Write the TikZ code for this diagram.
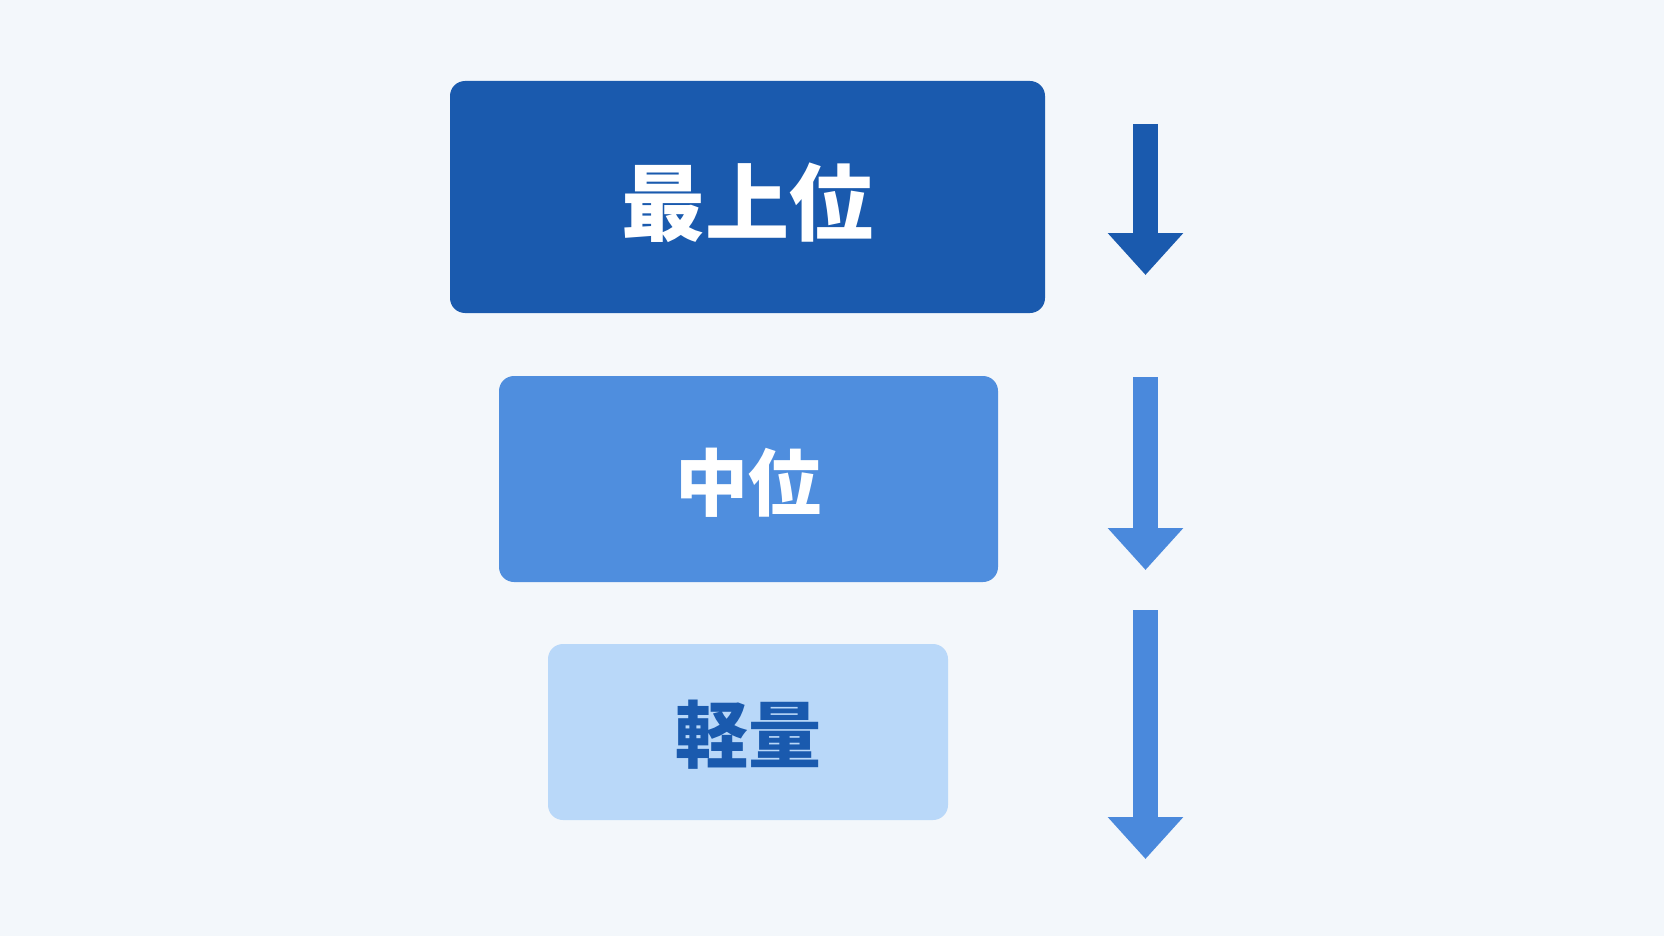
\documentclass[tikz,border=0pt]{standalone}
\usepackage{fontspec}
\usepackage{tikz}
\usetikzlibrary{arrows.meta}
\newfontfamily\cjk{Noto Sans CJK JP}
\definecolor{bgcol}{HTML}{F3F7FB}
\definecolor{topcol}{HTML}{1A5AAE}
\definecolor{midcol}{HTML}{4F8EDE}
\definecolor{lowcol}{HTML}{B9D8F9}
\definecolor{arrcol}{HTML}{4A89DC}
\newcommand{\lowered}[2]{\raisebox{-#1}[\height][\depth]{#2}}
\tikzset{
  tier/.style={rounded corners=15pt, inner sep=0pt, font=\cjk\bfseries},
  downarrow/.style={line width=25pt, -{Triangle[length=42pt, width=73pt]}}
}

\begin{document}
\begin{tikzpicture}[x=1pt, y=-1pt]

\fill[bgcol] (0,0) rectangle (1664,936);
\useasboundingbox (0,0) rectangle (1664,936);

\node[tier, fill=topcol, text=white, minimum width=595pt, minimum height=232pt,
  font=\cjk\bfseries\fontsize{84}{90}\selectfont] (top) at (747.5,197) {\lowered{6pt}{最上位}};
\node[tier, fill=midcol, text=white, minimum width=499pt, minimum height=206pt,
  font=\cjk\bfseries\fontsize{73}{80}\selectfont] (mid) at (748.5,479) {\lowered{4pt}{中位}};
\node[tier, fill=lowcol, text=topcol, minimum width=400pt, minimum height=176pt,
  font=\cjk\bfseries\fontsize{73}{80}\selectfont] (low) at (748,732) {\lowered{3pt}{軽量}};

\coordinate (a1) at (1145.5,124);
\coordinate (b1) at (1145.5,275);
\coordinate (a2) at (1145.5,377);
\coordinate (b2) at (1145.5,570);
\coordinate (a3) at (1145.5,610);
\coordinate (b3) at (1145.5,859);

\draw[downarrow, topcol] (a1) -- (b1);
\draw[downarrow, arrcol] (a2) -- (b2);
\draw[downarrow, arrcol] (a3) -- (b3);

\end{tikzpicture}
\end{document}
